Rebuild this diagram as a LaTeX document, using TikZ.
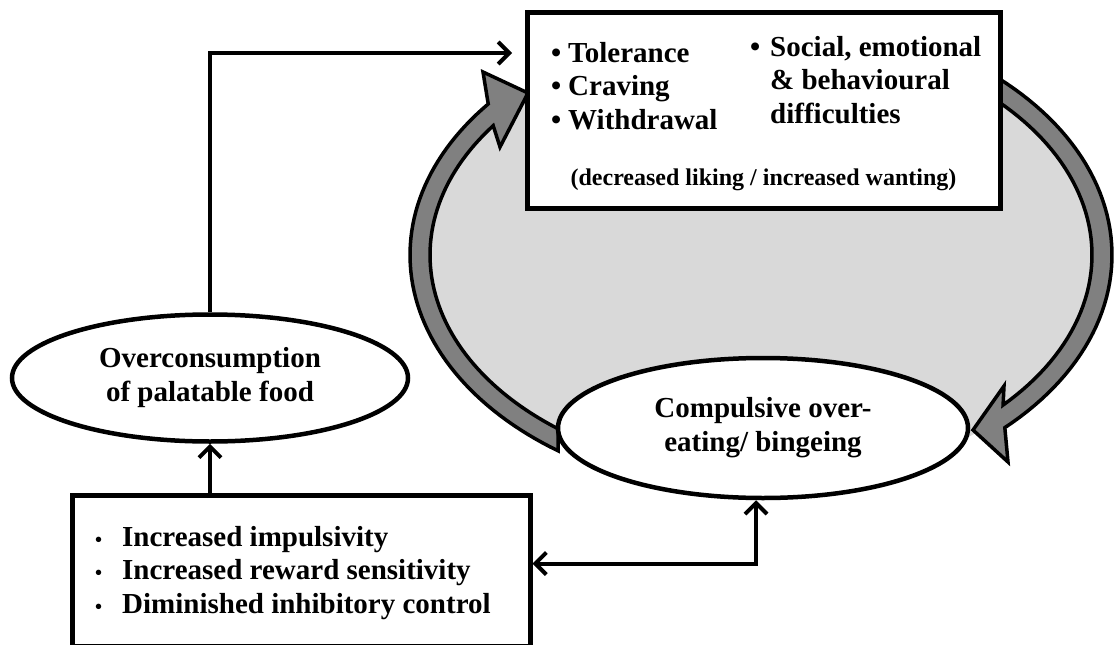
\documentclass[tikz,border=0pt]{standalone}
\usepackage{fontspec}
\setmainfont{Liberation Serif}
\usetikzlibrary{shapes.geometric, arrows.meta, positioning}

\definecolor{ringgray}{HTML}{808080}
\definecolor{ringfill}{HTML}{D9D9D9}
\newcommand{\topdot}[1]{\makebox[#1][l]{\hspace{-1pt}•}}
\newcommand{\lowdot}{\makebox[27pt][l]{\fontsize{20}{20}\selectfont•}}

\begin{document}
\begin{tikzpicture}[x=1pt, y=-1pt,
    bigtext/.style={inner sep=0pt, align=left, font=\bfseries\fontsize{29}{33.5}\selectfont},
    oval/.style={ellipse, draw, line width=4.5pt, fill=white, inner sep=0pt, align=center,
        font=\bfseries\fontsize{29}{34}\selectfont},
    panel/.style={rectangle, draw, line width=5pt, fill=white, inner sep=0pt},
    link/.style={line width=4pt, -{Straight Barb[length=11pt, width=22pt]}},
    ring/.style={fill=ringgray, draw, line width=3.5pt, line join=miter}]
    \useasboundingbox (0,0) rectangle (1114,645);

    % Shaded background of the loop
    \fill[ringfill] (761,258) ellipse[x radius=335pt, y radius=228pt];

    % Left loop arrow: bingeing -> effects
    \filldraw[ring] plot[domain=125.3:219, samples=60] ({761+351*cos(\x)}, {255+240*sin(\x)})
        -- (483,72) -- (528,93) -- (500,147)
        -- plot[domain=216:127.8, samples=60] ({761+331*cos(\x)}, {255+220*sin(\x)}) -- cycle;

    % Right loop arrow: effects -> bingeing
    \filldraw[ring] plot[domain=-60:46, samples=60] ({761+351*cos(\x)}, {255+240*sin(\x)})
        -- (1008,462) -- (973,430) -- (1004,386)
        -- plot[domain=43:-60, samples=60] ({761+331*cos(\x)}, {255+220*sin(\x)}) -- cycle;

    % Effects box
    \node[panel, minimum width=473pt, minimum height=196pt] (effects) at (763.5,110) {};
    \node[bigtext, anchor=west] (symptoms) at (552,86)
        {\topdot{16pt}Tolerance\\\topdot{16pt}Craving\\\topdot{16pt}Withdrawal};
    \node[bigtext, anchor=west] (social) at (751,80)
        {\topdot{19pt}Social, emotional\\\hspace{19pt}\& behavioural\\\hspace{19pt}difficulties};
    \node[inner sep=0pt, font=\bfseries\fontsize{24}{28}\selectfont] (liking) at (763.5,180)
        {(decreased liking / increased wanting)};

    % Ovals
    \node[oval, minimum width=396pt, minimum height=127pt] (overeat) at (210,378)
        {Overconsumption\\of palatable food};
    \node[oval, minimum width=410pt, minimum height=140pt] (binge) at (763,428)
        {Compulsive over-\\eating/ bingeing};

    % Traits box
    \node[panel, minimum width=458pt, minimum height=151pt] (traits) at (301,570.5) {};
    \node[bigtext, anchor=west] (traitlist) at (95,573)
        {\lowdot Increased impulsivity\\
         \lowdot Increased reward sensitivity\\
         \lowdot Diminished inhibitory control};

    % Connectors
    \coordinate (effin) at (512,53);
    \draw[link] (overeat.south |- traits.north) -- (overeat.south);
    \draw[link] (overeat.north) |- (effin);
    \draw[link, {Straight Barb[length=11pt, width=22pt]}-{Straight Barb[length=11pt, width=22pt]}]
        ([yshift=7pt]traits.east) -| ([xshift=-7pt]binge.south);
\end{tikzpicture}
\end{document}
